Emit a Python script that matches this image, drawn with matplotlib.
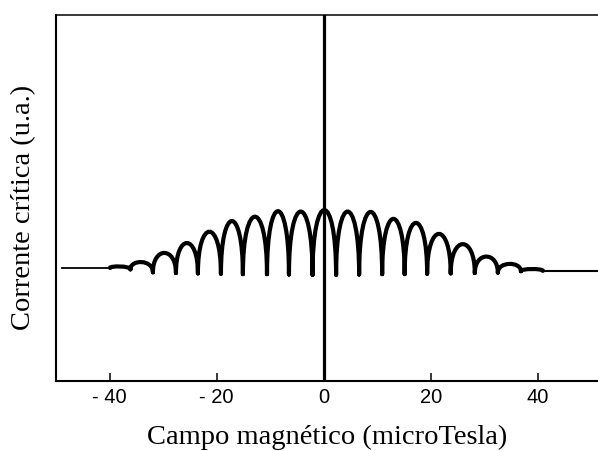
import matplotlib
matplotlib.use("Agg")
import matplotlib.pyplot as plt
from matplotlib.path import Path
from matplotlib.patches import PathPatch

# minima of the critical current along the field axis (microTesla)
cusps = [-39.9, -36.1, -31.9, -27.6, -23.5, -19.2, -15.1, -10.6, -6.5, -2.1,
         2.3, 6.6, 10.9, 15.1, 19.3, 23.7, 28.2, 32.5, 36.8, 40.9]
# level reached at each minimum (u.a.)
floors = [3.09, 3.05, 2.97, 2.95, 2.94, 2.93, 2.92, 2.92, 2.91, 2.90,
          2.90, 2.91, 2.92, 2.92, 2.93, 2.94, 2.95, 2.96, 3.00, 3.01]
# maximum of each lobe between two neighbouring minima (u.a.)
peaks = [3.13, 3.25, 3.50, 3.77, 4.08, 4.37, 4.49, 4.64, 4.63, 4.67,
         4.63, 4.62, 4.43, 4.32, 4.02, 3.74, 3.40, 3.20, 3.06]

# flat parts of the trace outside the modulated region
tail_left_x = [-48.8, -39.9]
tail_left_y = [3.09, 3.09]
tail_right_x = [40.9, 52.0]
tail_right_y = [3.01, 3.01]

xticks = [-40, -20, 0, 20, 40]
xticklabels = ["- 40", "- 20", "0", "20", "40"]

fig = plt.figure(figsize=(5.98, 4.51), dpi=100)
ax = fig.add_axes([0.0936, 0.1552, 0.9064, 0.8115])

# each lobe is a cubic bezier that leaves the minima vertically
verts = []
codes = []
for i, h in enumerate(peaks):
    x0, x1 = cusps[i], cusps[i + 1]
    y0, y1 = floors[i], floors[i + 1]
    base = 0.5 * (y0 + y1)
    ctrl = base + 4.0 / 3.0 * (h - base)
    verts += [(x0, y0), (x0, ctrl), (x1, ctrl), (x1, y1)]
    codes += [Path.MOVETO, Path.CURVE4, Path.CURVE4, Path.CURVE4]
ax.add_patch(PathPatch(Path(verts, codes), facecolor="none",
                       edgecolor="black", lw=3.0, capstyle="round"))

ax.plot(tail_left_x, tail_left_y, color="black", lw=1.3)
ax.plot(tail_right_x, tail_right_y, color="black", lw=1.5)

ax.axvline(0, color="black", lw=2.3)

ax.set_xlim(-50, 51.2)
ax.set_ylim(0, 10)

ax.spines["right"].set_visible(False)
ax.spines["left"].set_linewidth(1.5)
ax.spines["bottom"].set_linewidth(1.5)
ax.spines["top"].set_linewidth(1.1)

ax.set_yticks([])
ax.set_xticks(xticks)
ax.set_xticklabels(xticklabels, family="Liberation Sans", fontsize=14.5)
ax.tick_params(axis="x", direction="in", length=6, width=1.1, pad=5)

ax.set_xlabel("Campo magnético (microTesla)", family="Liberation Serif",
              fontsize=20.5, labelpad=13)
ax.set_ylabel("Corrente crítica (u.a.)", family="Liberation Serif",
              fontsize=20.5)
ax.yaxis.set_label_coords(-0.036, 0.475)

fig.savefig("out.png", dpi=100)
